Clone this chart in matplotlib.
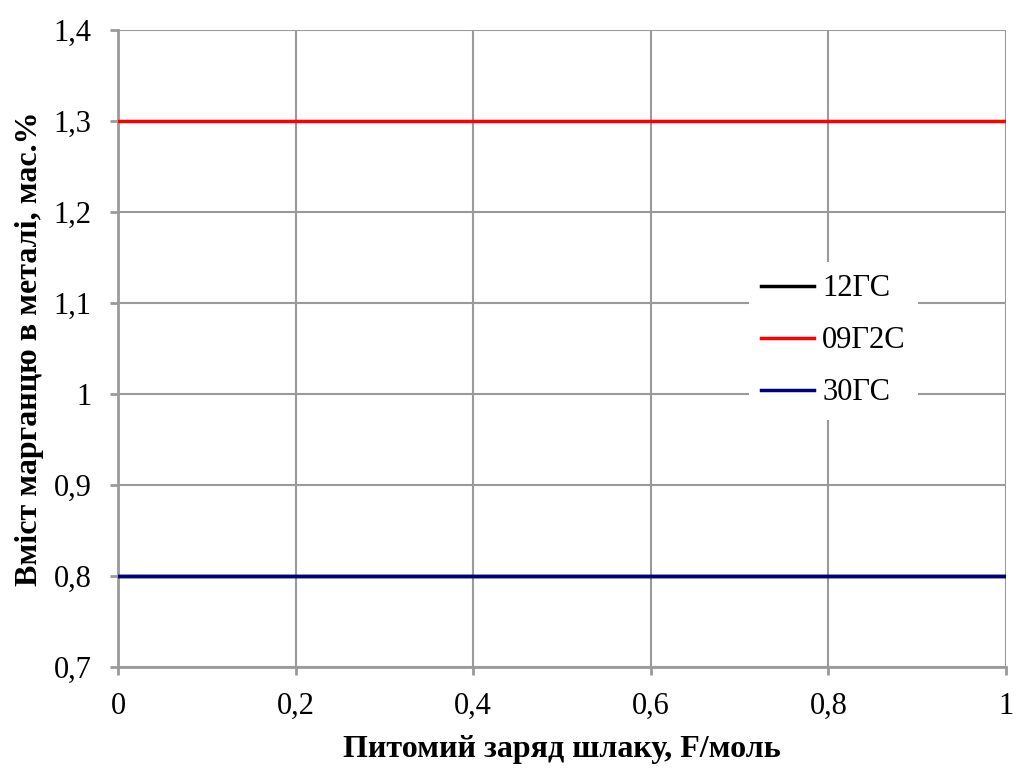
import matplotlib.pyplot as plt

plt.rcParams['font.family'] = ['Liberation Serif', 'DejaVu Serif']

charge = [0, 0.1, 0.2, 0.3, 0.4, 0.5, 0.6, 0.7, 0.8, 0.9, 1.0]
mn_12gs = [0.80, 0.80, 0.80, 0.80, 0.80, 0.80, 0.80, 0.80, 0.80, 0.80, 0.80]
mn_09g2s = [1.30, 1.30, 1.30, 1.30, 1.30, 1.30, 1.30, 1.30, 1.30, 1.30, 1.30]
mn_30gs = [0.80, 0.80, 0.80, 0.80, 0.80, 0.80, 0.80, 0.80, 0.80, 0.80, 0.80]

x_ticks = [0, 0.2, 0.4, 0.6, 0.8, 1.0]
x_labels = ["0", "0,2", "0,4", "0,6", "0,8", "1"]
y_ticks = [0.7, 0.8, 0.9, 1.0, 1.1, 1.2, 1.3, 1.4]
y_labels = ["0,7", "0,8", "0,9", "1", "1,1", "1,2", "1,3", "1,4"]

fig = plt.figure(figsize=(10.2, 7.69), dpi=100)
ax = fig.add_axes([0.1157, 0.1326, 0.8706, 0.8284])

grid_c = "#9a9a9a"
ax.plot(charge, mn_12gs, color="black", lw=2.5, label="12ГС", zorder=3)
ax.plot(charge, mn_09g2s, color="#ff0000", lw=2.5, label="09Г2С", zorder=3)
ax.plot(charge, mn_30gs, color="#000080", lw=2.5, label="30ГС", zorder=4)

ax.set_xlim(0, 1)
ax.set_ylim(0.7, 1.4)
ax.set_xticks(x_ticks)
ax.set_xticklabels(x_labels)
ax.set_yticks(y_ticks)
ax.set_yticklabels(y_labels)
ax.tick_params(labelsize=22, color=grid_c, width=2, length=6, direction="out", pad=13)
ax.tick_params(axis="x", pad=12)
ax.grid(True, color=grid_c, lw=1.5)
ax.set_axisbelow(True)
for side in ["top", "right"]:
    ax.spines[side].set_visible(False)
for side in ["left", "bottom"]:
    ax.spines[side].set_color(grid_c)
    ax.spines[side].set_linewidth(2)

ax.set_xlabel("Питомий заряд шлаку, F/моль", fontsize=23, fontweight="bold", labelpad=10)
ax.set_ylabel("Вміст марганцю в металі, мас.%", fontsize=23, fontweight="bold", labelpad=7)

leg = ax.legend(loc="upper left", bbox_to_anchor=(0.734, 0.659),
                bbox_transform=fig.transFigure, borderaxespad=0, fontsize=22,
                frameon=True, handlelength=1.75, handletextpad=0.25,
                labelspacing=0.75, borderpad=0.4)
leg.get_frame().set_edgecolor("none")
leg.get_frame().set_facecolor("white")
leg.get_frame().set_alpha(1)
leg.get_frame().set_boxstyle("square", pad=0)

fig.savefig("out.png", dpi=100)
